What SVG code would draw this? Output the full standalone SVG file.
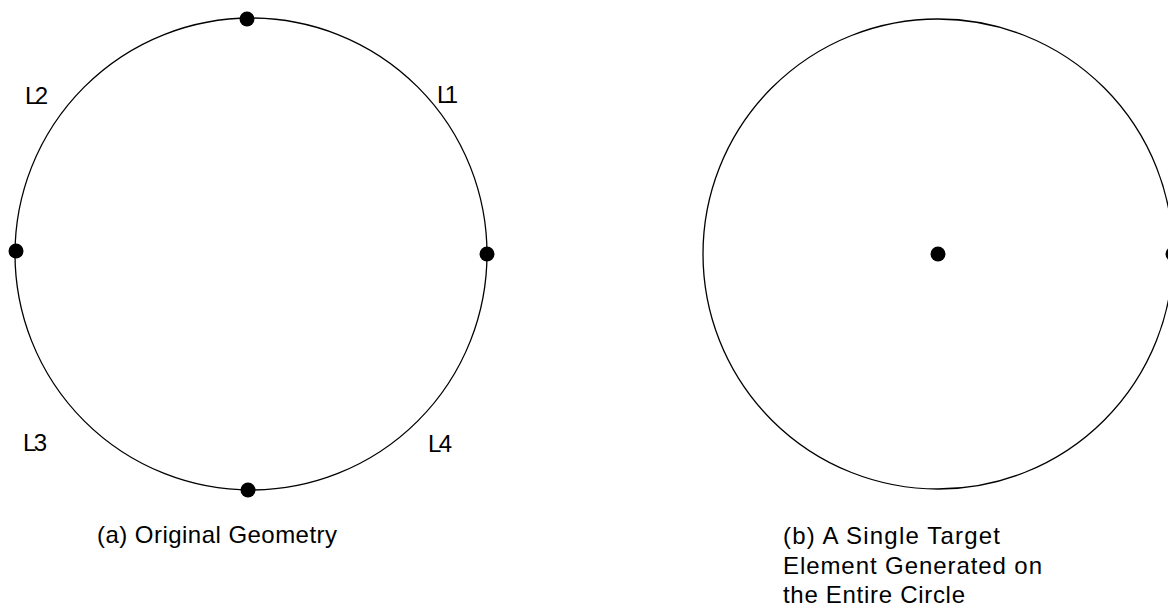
<svg xmlns="http://www.w3.org/2000/svg" width="1168" height="613" viewBox="0 0 1168 613">
<style>
.geom{fill:none;stroke:#000;stroke-width:1.3}
.pt{fill:#000}
text{font-family:"Liberation Sans",Arial,sans-serif;font-size:24px;fill:#000}
</style>
<rect width="1168" height="613" fill="#fff"/>
<g id="original-geometry">
<circle class="geom" cx="251" cy="254" r="236"/>
<circle class="pt" cx="247" cy="19" r="7.5"/>
<circle class="pt" cx="16" cy="251" r="7.5"/>
<circle class="pt" cx="487" cy="254" r="7.5"/>
<circle class="pt" cx="248" cy="490" r="7.5"/>
<text x="437" y="103" textLength="21">L1</text>
<text x="25" y="104" textLength="23">L2</text>
<text x="23" y="451" textLength="24">L3</text>
<text x="428" y="452" textLength="24">L4</text>
<text x="97" y="543" textLength="240">(a) Original Geometry</text>
</g>
<g id="target-element">
<circle class="geom" cx="938" cy="254" r="235"/>
<circle class="pt" cx="938" cy="254" r="7.5"/>
<circle class="pt" cx="1173" cy="254" r="7.5"/>
<text x="783" y="544" textLength="217">(b) A Single Target</text>
<text x="783" y="574" textLength="259">Element Generated on</text>
<text x="783" y="603" textLength="182">the Entire Circle</text>
</g>
</svg>
